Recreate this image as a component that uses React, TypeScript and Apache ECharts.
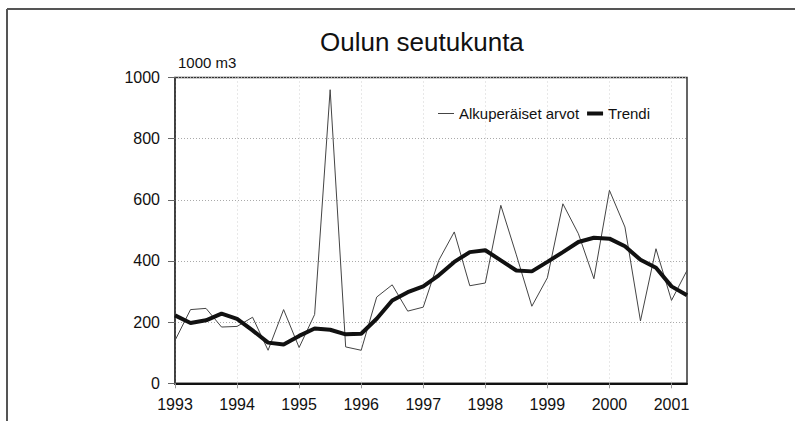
import React, { useEffect, useRef } from "react";
import * as echarts from "echarts";

const years = ["1993", "1994", "1995", "1996", "1997", "1998", "1999", "2000", "2001"];
const quarters = ["I", "II", "III", "IV"];
const categories: string[] = [];
years.forEach((y) => quarters.forEach((q) => categories.push(`${y} ${q}`)));
categories.length = 34; // 1993 I ... 2001 II

const rawValues = [
  140, 241, 245, 184, 186, 216, 108, 241, 117, 225, 960, 119, 108, 282, 322, 236, 249,
  402, 495, 319, 328, 582, 420, 252, 345, 587, 489, 342, 631, 511, 204, 440, 271, 369,
];
const trendValues = [
  222, 197, 206, 228, 211, 173, 133, 127, 155, 179, 175, 160, 162, 211, 271, 298, 317,
  353, 397, 429, 435, 402, 369, 366, 397, 429, 462, 476, 473, 448, 404, 378, 317, 288,
];
const yTicks = [0, 200, 400, 600, 800, 1000];

const FONT = "Liberation Sans, Arial, Helvetica, sans-serif";

export default function App() {
  const ref = useRef<HTMLDivElement>(null);
  useEffect(() => {
    if (!ref.current) return;
    const chart = echarts.init(ref.current, null, { renderer: "svg" });
    chart.setOption({
      animation: false,
      backgroundColor: "#ffffff",
      textStyle: { fontFamily: FONT },
      title: {
        text: "Oulun seutukunta",
        left: 315,
        top: 24,
        textStyle: { fontFamily: FONT, fontSize: 26, fontWeight: "normal", color: "#111" },
      },
      legend: {
        left: 433,
        top: 101,
        itemWidth: 16,
        itemHeight: 10,
        itemGap: 8,
        symbolKeepAspect: true,
        textStyle: { fontFamily: FONT, fontSize: 15, color: "#111" },
        data: [
          { name: "Alkuperäiset arvot", icon: "path://M0,0H20V1.3H0Z" },
          { name: "Trendi", icon: "path://M0,0H20V5H0Z" },
        ],
      },
      grid: {
        left: 175,
        right: 108,
        top: 77.5,
        bottom: 37.7,
        show: true,
        borderColor: "#333",
        borderWidth: 1.5,
      },
      graphic: [
        { type: "line", shape: { x1: 7, y1: 9, x2: 795, y2: 9 }, style: { stroke: "#555", lineWidth: 2 } },
        { type: "line", shape: { x1: 7, y1: 9, x2: 7, y2: 421 }, style: { stroke: "#555", lineWidth: 2 } },
      ],
      xAxis: {
        type: "category",
        data: categories,
        boundaryGap: false,
        axisLine: { lineStyle: { color: "#111", width: 2 } },
        axisTick: { interval: 3, length: 5, lineStyle: { color: "#999" } },
        axisLabel: {
          interval: 3,
          margin: 13,
          fontSize: 16,
          color: "#111",
          fontFamily: FONT,
          formatter: (v: string) => v.split(" ")[0],
        },
        splitLine: { show: true, interval: 3, lineStyle: { color: "#d0d0d0", type: [1, 3], width: 1 } },
      },
      yAxis: {
        type: "value",
        min: yTicks[0],
        max: yTicks[yTicks.length - 1],
        interval: 200,
        name: "1000 m3",
        nameLocation: "end",
        nameGap: 8,
        nameTextStyle: { align: "left", fontSize: 15, color: "#111", fontFamily: FONT, padding: [0, 0, 0, 3] },
        axisLine: { show: true, lineStyle: { color: "#333", width: 1.5 } },
        axisTick: { show: true, length: 7, lineStyle: { color: "#666" } },
        axisLabel: {
          margin: 15,
          fontSize: 16,
          color: "#111",
          fontFamily: FONT,
          formatter: (v: number) => String(v),
        },
        splitLine: { show: true, lineStyle: { color: "#aaa", type: [1, 2], width: 1 } },
      },
      series: [
        {
          name: "Alkuperäiset arvot",
          type: "line",
          data: rawValues,
          symbol: "none",
          lineStyle: { color: "#444", width: 1 },
          itemStyle: { color: "#444" },
        },
        {
          name: "Trendi",
          type: "line",
          data: trendValues,
          symbol: "none",
          lineStyle: { color: "#111", width: 4 },
          itemStyle: { color: "#111" },
        },
      ],
    });
    return () => chart.dispose();
  }, []);
  return (
    <div
      ref={ref}
      style={{ position: "fixed", left: 0, top: 0, width: 795, height: 421, background: "#fff" }}
    />
  );
}
